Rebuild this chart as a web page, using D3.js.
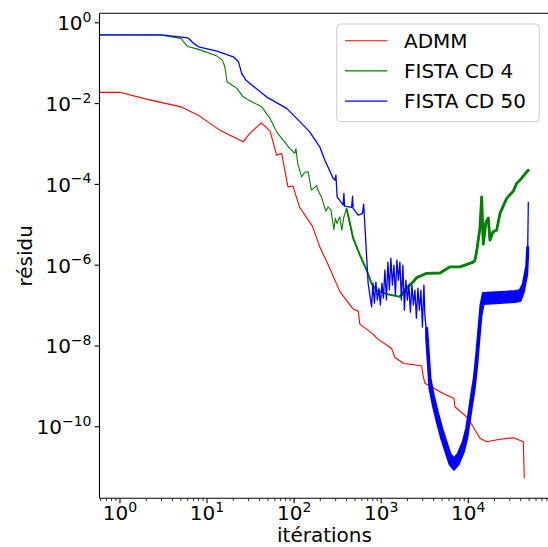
<!DOCTYPE html>
<html><head><meta charset="utf-8">
<script src="https://cdn.jsdelivr.net/npm/d3@7"></script>
<style>
body{margin:0;background:#fff;}
text{font-family:"DejaVu Sans",sans-serif;fill:#000;}
</style></head>
<body><svg id="c" width="548" height="547"></svg>
<script>
// ---- data ----
const seriesNames = ["ADMM", "FISTA CD 4", "FISTA CD 50"];
const seriesColors = ["#ff0000", "#008000", "#0000ff"];

const admmIter = [0, 1, 2, 5, 8, 14, 26, 31, 42, 53, 63, 72, 85, 97, 116, 162, 197, 241, 336, 476, 545, 569, 809, 893, 1318, 1436, 1823, 2913, 3038, 3178, 3630, 5160, 6850, 7030, 10000, 13620, 16270, 23130, 32880, 42870, 44030];
const admmRes = [1.9e-2, 1.9e-2, 1.29e-2, 8.3e-3, 5.1e-3, 2.2e-3, 1.13e-3, 1.83e-3, 3.35e-3, 2.09e-3, 5.3e-4, 5.85e-4, 8.7e-5, 9.1e-5, 2.67e-5, 9.3e-6, 2.85e-6, 1.13e-6, 2.22e-7, 8.2e-8, 7.3e-8, 3.48e-8, 1.97e-8, 1.54e-8, 8.7e-9, 5.2e-9, 3.7e-9, 3.24e-9, 1.8e-9, 1.19e-9, 1.02e-9, 6.7e-10, 5.05e-10, 3.13e-10, 1.61e-10, 5.2e-11, 4.26e-11, 4.9e-11, 5.35e-11, 4.26e-11, 5.3e-12];

const cd4Iter = [0, 1, 3, 5, 6, 8, 13, 15, 16, 17, 22, 26, 30, 42, 53, 63, 89, 102, 105, 110, 122, 133, 145, 158, 181, 194, 206, 231, 246, 264, 286, 298, 310, 335, 353, 373, 400, 429, 476, 569, 680, 776, 885, 1153, 1503, 1640, 1959, 2333, 2553, 3327, 4730, 6166, 8035, 11400, 11940, 12500, 13620, 14260, 14870, 15960, 16980, 17760, 19210, 21200, 23130, 27620, 32880, 35980, 39300, 46900, 49870];
const cd4Res = [0.50, 0.50, 0.49, 0.411, 0.258, 0.22, 0.15, 0.119, 0.0814, 0.0347, 0.0238, 0.0147, 0.0122, 8.5e-3, 4.3e-3, 2.0e-3, 7.8e-4, 5.85e-4, 7.7e-4, 3.3e-4, 1.54e-4, 2.0e-4, 2.05e-4, 7.2e-5, 9.3e-5, 6.2e-5, 4.9e-5, 2.18e-5, 2.74e-5, 2.4e-5, 7.6e-6, 1.44e-5, 1.08e-5, 1.58e-5, 7.4e-6, 1.58e-5, 2.55e-5, 1.31e-5, 4.7e-6, 1.78e-6, 7.6e-7, 3.5e-7, 2.42e-7, 1.93e-7, 1.72e-7, 1.65e-7, 2.71e-7, 3.88e-7, 4.93e-7, 6.3e-7, 6.4e-7, 9.1e-7, 9.1e-7, 1.19e-6, 1.34e-6, 2.23e-6, 8.3e-6, 4.9e-5, 3.33e-6, 1.17e-5, 1.47e-5, 4.18e-6, 6.6e-6, 7.4e-6, 1.91e-5, 4.5e-5, 6.8e-5, 1.06e-4, 1.28e-4, 2.05e-4, 2.32e-4];
const cd4NoisyFrom = 400;
const cd4DenseFrom = 1600;

const cd50Iter = [0, 3, 6, 7, 8, 13, 20, 23, 25, 28, 48, 82, 107, 151, 197, 225, 281, 294, 302, 312, 366, 373, 380, 457, 469, 476, 544, 611, 628, 638, 709, 776,
  803, 836, 869, 904, 941, 979, 1019, 1060, 1103, 1148, 1194, 1242, 1292, 1344, 1399, 1456, 1515, 1576, 1640, 1706, 1775, 1847, 1922, 2000, 2081, 2165, 2253, 2344, 2439, 2538, 2641, 2748, 2859, 2975, 3095, 3178,
  3327, 3470, 3630, 3960, 4406, 4945, 5541, 6166, 6850, 7674, 8770, 9590, 10260, 10930, 11720, 12500, 13270, 14000, 14870, 23130, 34400, 39300, 42870, 46900, 48150, 48950];
const cd50Res = [0.50, 0.50, 0.425, 0.31, 0.255, 0.20, 0.144, 0.108, 0.056, 0.038, 0.0147, 7.6e-3, 4.3e-3, 2.0e-3, 8.5e-4, 4.0e-4, 1.41e-4, 1.28e-4, 1.7e-4, 4.9e-5, 3.08e-5, 6.0e-5, 2.9e-5, 2.7e-5, 5.1e-5, 2.55e-5, 1.74e-5, 1.91e-5, 3.25e-5, 1.91e-5, 3.5e-7, 9.3e-8,
  3.61e-7, 1.15e-7, 3.82e-7, 1.37e-7, 2.71e-7, 1.03e-7, 3.61e-7, 1.53e-7, 7.6e-7, 1.37e-7, 1.19e-6, 2.42e-7, 1.50e-6, 3.22e-7, 1.0e-6, 1.82e-7, 1.34e-6, 4.28e-7, 1.19e-6, 1.37e-7, 1.0e-6, 7.7e-8, 4.28e-7, 1.37e-7, 3.22e-7, 6.9e-8, 3.22e-7, 1.03e-7, 2.42e-7, 4.9e-8, 2.71e-7, 7.7e-8, 2.42e-7, 2.94e-8, 3.22e-7, 5.5e-8,
  2.05e-8, 5.4e-9, 1.19e-9, 4.6e-10, 1.77e-10, 6.9e-11, 3.2e-11, 1.58e-11, 1.2e-11, 1.6e-11, 3.2e-11, 6.9e-11, 1.77e-10, 4.6e-10, 1.19e-9, 4.5e-9, 2.05e-8, 7.7e-8, 1.55e-7, 1.62e-7, 1.72e-7, 1.82e-7, 2.71e-7, 7.6e-7, 2.37e-6, 3.7e-5];
// envelope of the fast oscillation (min / max per iteration block)
const cd50BandIter = [3327, 3470, 3630, 3960, 4406, 4945, 5541, 6166, 6850, 7674, 8770, 9590, 10260, 10930, 11720, 12500, 13270, 14000, 14870, 23130, 34400, 39300, 42870, 46900, 48150];
const cd50BandLow = [1.54e-8, 4.06e-9, 8.9e-10, 3.46e-10, 1.33e-10, 5.2e-11, 2.4e-11, 1.19e-11, 9.0e-12, 1.2e-11, 2.4e-11, 5.2e-11, 1.33e-10, 3.46e-10, 8.9e-10, 3.38e-9, 1.54e-8, 5.8e-8, 1.13e-7, 1.19e-7, 1.26e-7, 1.33e-7, 2.16e-7, 6.0e-7, 2.0e-6];
const cd50BandHigh = [2.73e-8, 7.2e-9, 1.58e-9, 6.1e-10, 2.35e-10, 9.2e-11, 4.26e-11, 2.1e-11, 1.6e-11, 2.13e-11, 4.26e-11, 9.2e-11, 2.35e-10, 6.1e-10, 1.58e-9, 6.0e-9, 2.73e-8, 1.02e-7, 2.0e-7, 2.1e-7, 2.22e-7, 2.34e-7, 3.4e-7, 9.5e-7, 2.8e-6];

const xTickExps = [0, 1, 2, 3, 4];
const yTickExps = [0, -2, -4, -6, -8, -10];
const xLabel = "itérations";
const yLabel = "résidu";

// ---- layout ----
const svg = d3.select("#c");
const L = 99.5, R = 549.5, T = 13.3, B = 498.3;
const x = d3.scaleLog().domain([Math.pow(10, -0.235), Math.pow(10, 4.933)]).range([L, R]).clamp(true);
const y = d3.scaleLog().domain([Math.pow(10, -11.77), Math.pow(10, 0.235)]).range([B, T]);
const xv = v => v <= 0 ? L : x(v);

svg.append("defs").append("clipPath").attr("id", "clip")
  .append("rect").attr("x", L).attr("y", T).attr("width", R - L).attr("height", B - T);
const plot = svg.append("g").attr("clip-path", "url(#clip)");

function drawLine(iters, vals, color, w) {
  const pts = iters.map((d, i) => [d, vals[i]]);
  plot.append("path").datum(pts)
    .attr("d", d3.line().x(d => xv(d[0])).y(d => y(d[1])))
    .attr("fill", "none").attr("stroke", color).attr("stroke-width", w)
    .attr("stroke-linejoin", "round");
}
function drawFrom(iters, vals, from, color, w) {
  const it = iters.filter(d => d >= from);
  const vs = vals.filter((d, i) => iters[i] >= from);
  drawLine(it, vs, color, w);
}
// ADMM
drawLine(admmIter, admmRes, seriesColors[0], 1.1);
// FISTA CD 4
drawLine(cd4Iter, cd4Res, seriesColors[1], 1.1);
drawFrom(cd4Iter, cd4Res, cd4NoisyFrom, seriesColors[1], 1.9);
drawFrom(cd4Iter, cd4Res, cd4DenseFrom, seriesColors[1], 2.8);
// FISTA CD 50
drawLine(cd50Iter, cd50Res, seriesColors[2], 1.3);
{
  const pts = cd50BandIter.map((d, i) => [d, cd50BandLow[i], cd50BandHigh[i]]);
  plot.append("path").datum(pts)
    .attr("d", d3.area().x(d => xv(d[0])).y0(d => y(d[1])).y1(d => y(d[2])))
    .attr("fill", seriesColors[2]).attr("stroke", seriesColors[2]).attr("stroke-width", 3)
    .attr("stroke-linejoin", "round");
}

// ---- axes ----
const ax = svg.append("g");
ax.append("line").attr("x1", L).attr("x2", L).attr("y1", T).attr("y2", B).attr("stroke", "#000").attr("stroke-width", 1.1);
ax.append("line").attr("x1", L).attr("x2", R).attr("y1", B).attr("y2", B).attr("stroke", "#000").attr("stroke-width", 1.1);
ax.append("line").attr("x1", L).attr("x2", R).attr("y1", T).attr("y2", T).attr("stroke", "#000").attr("stroke-width", 1.1);
ax.append("line").attr("x1", R).attr("x2", R).attr("y1", T).attr("y2", B).attr("stroke", "#000").attr("stroke-width", 1.1);

// x ticks
const xd = x.domain();
const minorX = [];
for (let e = -1; e <= 5; e++) for (let m = 2; m <= 9; m++) {
  const v = m * Math.pow(10, e);
  if (v >= xd[0] && v <= xd[1]) minorX.push(v);
}
ax.selectAll(".xmin").data(minorX).enter().append("line")
  .attr("x1", d => x(d)).attr("x2", d => x(d)).attr("y1", B).attr("y2", B + 2.8)
  .attr("stroke", "#000").attr("stroke-width", 0.8);
ax.selectAll(".xmaj").data(xTickExps).enter().append("line")
  .attr("x1", d => x(Math.pow(10, d))).attr("x2", d => x(Math.pow(10, d))).attr("y1", B).attr("y2", B + 4.9)
  .attr("stroke", "#000").attr("stroke-width", 1.1);
const FS = 20;
function expLabel(sel, e) {
  sel.append("tspan").text("10");
  sel.append("tspan").attr("font-size", FS * 0.7).attr("dy", -FS * 0.42)
    .text(e < 0 ? "\u2212" + Math.abs(e) : String(e));
}
xTickExps.forEach(e => {
  const t = ax.append("text").attr("x", x(Math.pow(10, e))).attr("y", B + 22)
    .attr("text-anchor", "middle").attr("font-size", FS);
  expLabel(t, e);
});
// y ticks
ax.selectAll(".ymaj").data(yTickExps).enter().append("line")
  .attr("x1", L - 4.9).attr("x2", L).attr("y1", d => y(Math.pow(10, d))).attr("y2", d => y(Math.pow(10, d)))
  .attr("stroke", "#000").attr("stroke-width", 1.1);
yTickExps.forEach(e => {
  const t = ax.append("text").attr("x", 91.5).attr("y", y(Math.pow(10, e)) + 7.5)
    .attr("text-anchor", "end").attr("font-size", FS);
  expLabel(t, e);
});
// axis labels
svg.append("text").attr("x", (L + R) / 2).attr("y", 542).attr("text-anchor", "middle")
  .attr("font-size", FS).text(xLabel);
svg.append("text").attr("transform", `translate(32,${(T + B) / 2}) rotate(-90)`)
  .attr("text-anchor", "middle").attr("font-size", FS).text(yLabel);

// ---- legend ----
const lg = svg.append("g");
lg.append("rect").attr("x", 336.7).attr("y", 24).attr("width", 202.6).attr("height", 97.7)
  .attr("rx", 4).attr("fill", "#fff").attr("fill-opacity", 0.8).attr("stroke", "#cccccc").attr("stroke-width", 1);
seriesNames.forEach((n, i) => {
  const yy = 40.7 + i * 30.2;
  lg.append("line").attr("x1", 345).attr("x2", 387.3).attr("y1", yy).attr("y2", yy)
    .attr("stroke", seriesColors[i]).attr("stroke-width", 1.1);
  lg.append("text").attr("x", 404).attr("y", yy + 7).attr("font-size", FS).text(n);
});
</script></body></html>
